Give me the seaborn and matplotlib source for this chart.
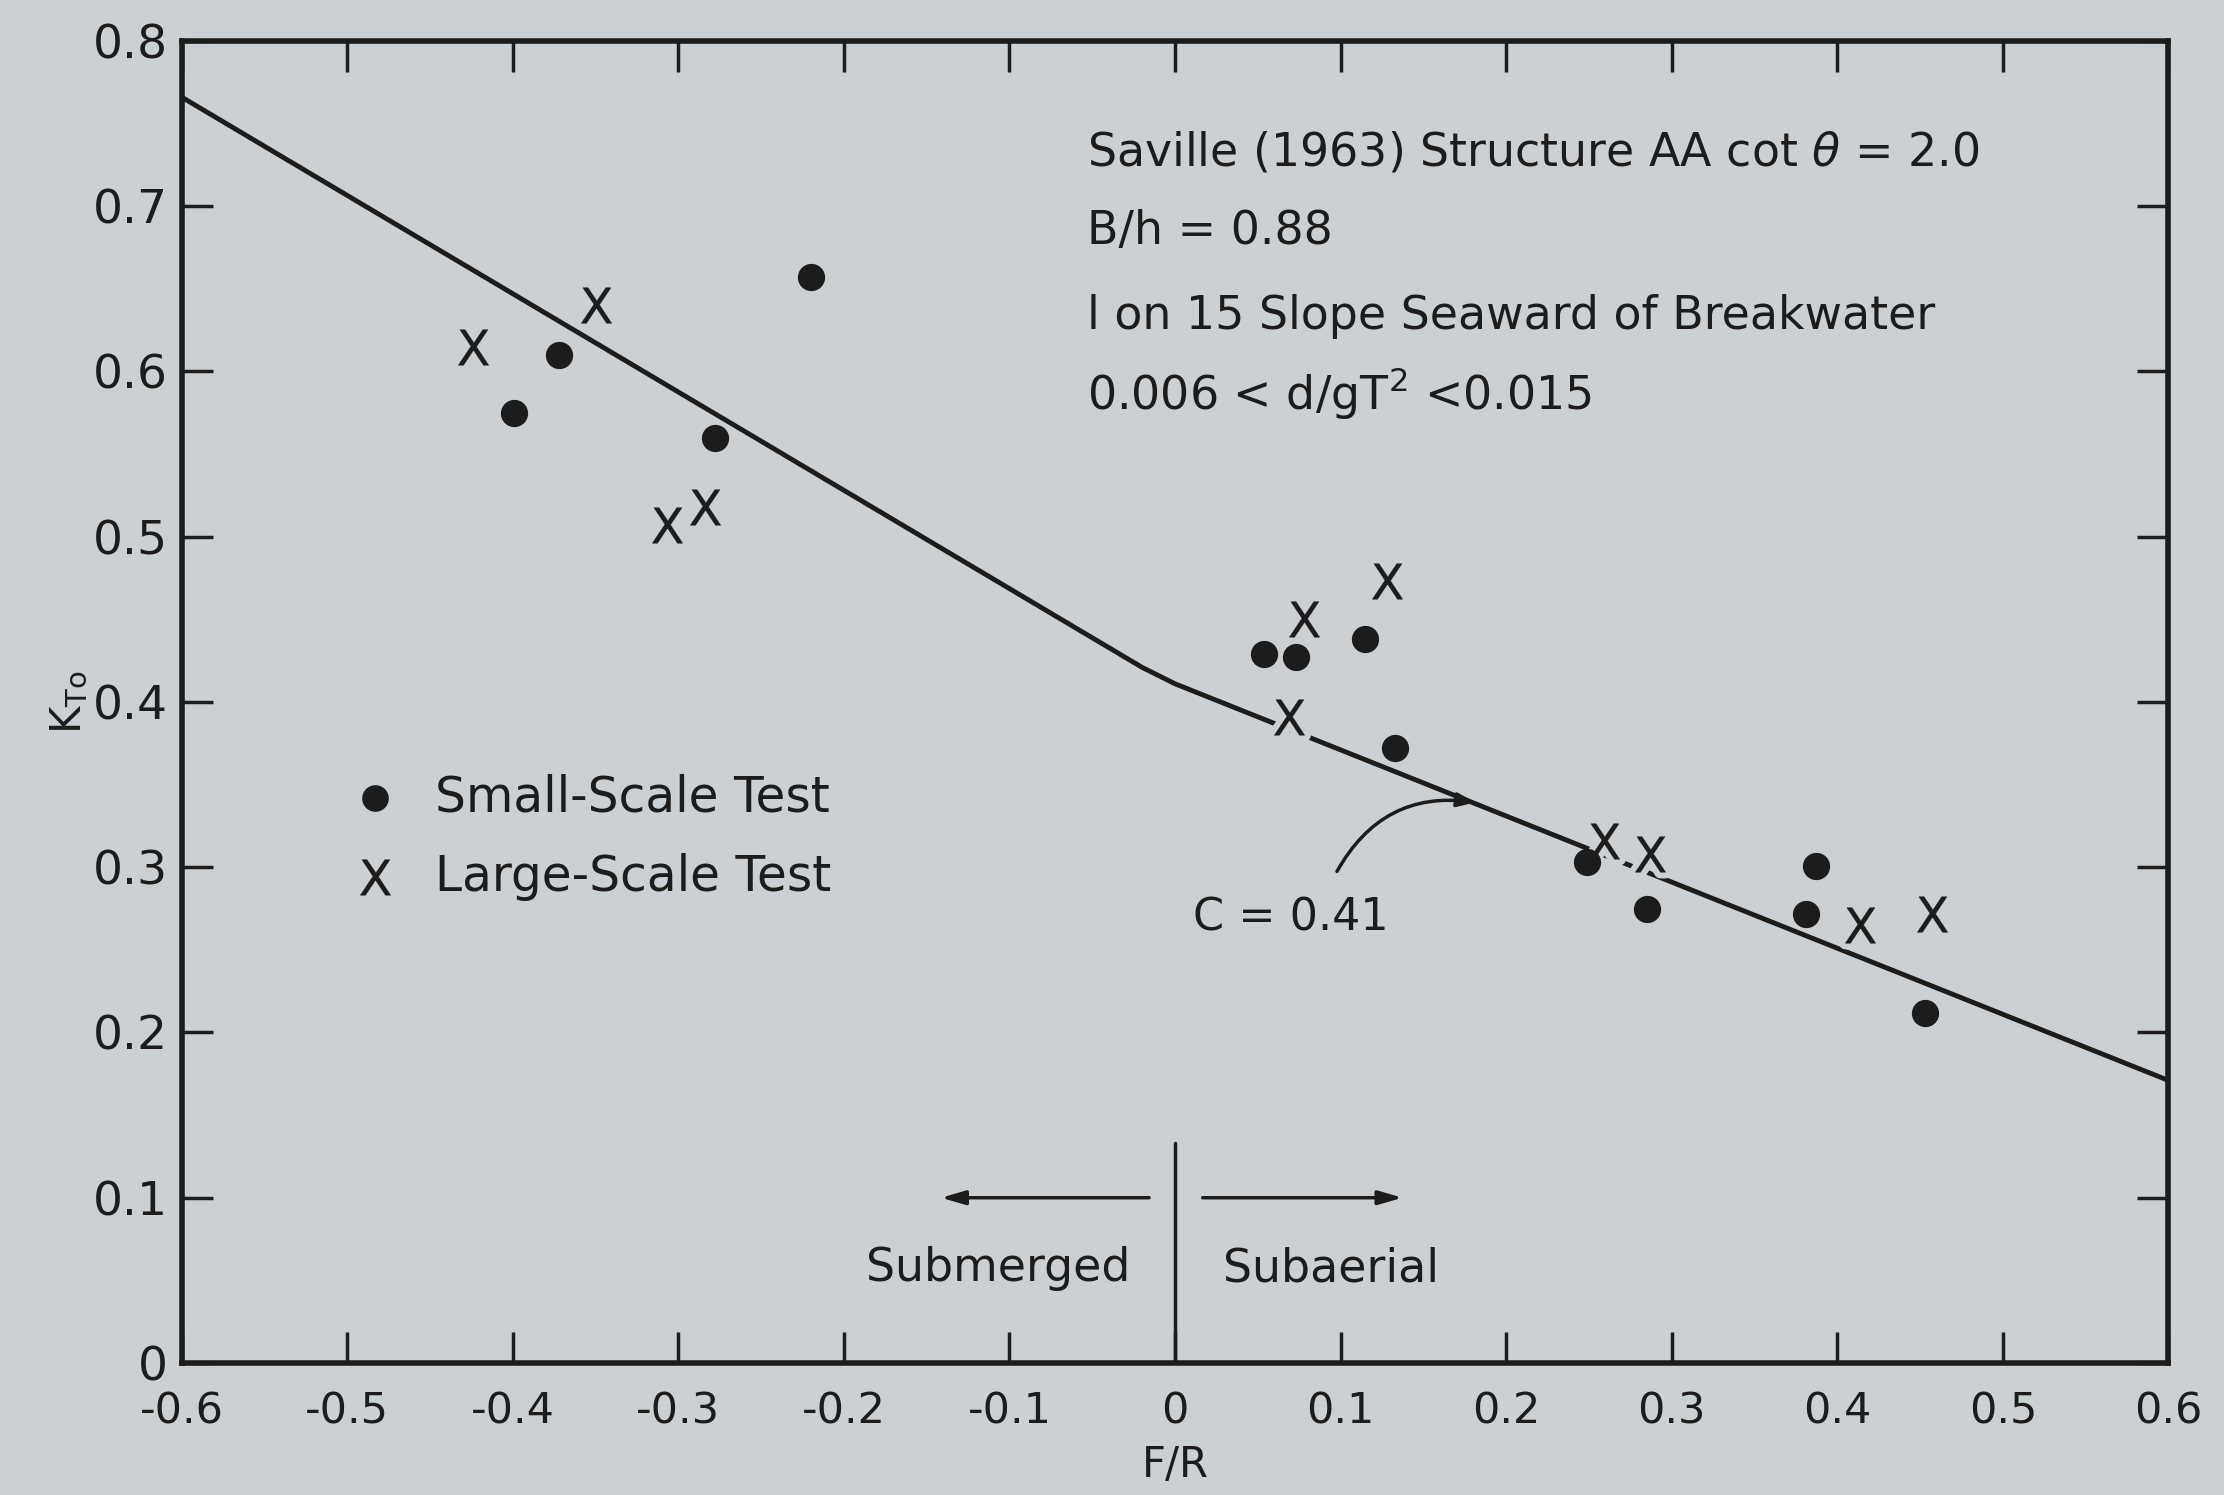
import matplotlib
matplotlib.use("Agg")
import matplotlib.pyplot as plt
import seaborn as sns
import pandas as pd
import numpy as np

# small-scale test points (F/R, K_To)
small_x = [-0.399, -0.372, -0.278, -0.220, 0.054, 0.073, 0.115, 0.133, 0.249, 0.285, 0.387, 0.381, 0.453]
small_y = [0.575, 0.610, 0.560, 0.657, 0.429, 0.427, 0.438, 0.372, 0.303, 0.275, 0.301, 0.272, 0.212]

# large-scale test points
large_x = [-0.424, -0.350, -0.307, -0.284, 0.078, 0.128, 0.069, 0.259, 0.287, 0.414, 0.457]
large_y = [0.615, 0.640, 0.507, 0.518, 0.450, 0.473, 0.391, 0.316, 0.308, 0.265, 0.272]

# fitted curve, C = 0.41
curve_x = [-0.6, -0.02, 0.0, 0.6]
curve_y = [0.766, 0.421, 0.411, 0.171]

x_ticks = [-0.6, -0.5, -0.4, -0.3, -0.2, -0.1, 0, 0.1, 0.2, 0.3, 0.4, 0.5, 0.6]
x_labels = ["-0.6", "-0.5", "-0.4", "-0.3", "-0.2", "-0.1", "0", "0.1", "0.2", "0.3", "0.4", "0.5", "0.6"]
y_ticks = [0, 0.1, 0.2, 0.3, 0.4, 0.5, 0.6, 0.7, 0.8]
y_labels = ["0", "0.1", "0.2", "0.3", "0.4", "0.5", "0.6", "0.7", "0.8"]

notes = ["Saville (1963) Structure AA cot $\\theta$ = 2.0",
         "B/h = 0.88",
         "l on 15 Slope Seaward of Breakwater",
         "0.006 < d/gT$^2$ <0.015"]
notes_y = [0.732, 0.685, 0.633, 0.587]

BG = "#cdd0d2"
INK = "#1c1c1c"
XMARK = "$\\mathsf{X}$"


def draw():
    sns.set_theme(style="ticks")
    plt.rcParams["font.family"] = ["DejaVu Sans"]
    plt.rcParams["mathtext.fontset"] = "dejavusans"

    fig = plt.figure(figsize=(22.24, 14.95), dpi=100, facecolor=BG)
    ax = fig.add_axes([0.0817, 0.0883, 0.8933, 0.8843], facecolor=BG)

    line_df = pd.DataFrame({"x": curve_x, "y": curve_y})
    sns.lineplot(data=line_df, x="x", y="y", ax=ax, color=INK, linewidth=3.5,
                 sort=False, estimator=None, zorder=3)

    large_df = pd.DataFrame({"x": large_x, "y": large_y})
    # background halo so the curve breaks around the X marks, as in the print
    sns.scatterplot(data=large_df, x="x", y="y", ax=ax, color=BG, s=650,
                    marker=XMARK, linewidth=9, edgecolor=BG, zorder=4)

    small_df = pd.DataFrame({"x": small_x, "y": small_y})
    sns.scatterplot(data=small_df, x="x", y="y", ax=ax, color=INK, s=330,
                    marker="o", edgecolor=INK, zorder=5)

    sns.scatterplot(data=large_df, x="x", y="y", ax=ax, color=INK, s=650,
                    marker=XMARK, linewidth=0.3, edgecolor=INK, zorder=6)

    # legend drawn by hand like the original
    ax.scatter([-0.483], [0.342], s=330, color=INK, marker="o")
    ax.scatter([-0.483], [0.294], s=650, color=INK, marker=XMARK, linewidth=0.3)
    ax.text(-0.447, 0.342, "Small-Scale Test", fontsize=35, color=INK, va="center")
    ax.text(-0.447, 0.294, "Large-Scale Test", fontsize=35, color=INK, va="center")

    for txt, yy in zip(notes, notes_y):
        ax.text(-0.053, yy, txt, fontsize=33, color=INK, va="center", ha="left")

    # C = 0.41 label with wavy pointer
    ax.text(0.07, 0.269, "C = 0.41", fontsize=32, color=INK, ha="center", va="center")
    ax.annotate("", xy=(0.183, 0.339), xytext=(0.097, 0.296),
                arrowprops=dict(arrowstyle="-|>,head_length=0.9,head_width=0.35",
                                color=INK, lw=2.5,
                                connectionstyle="arc3,rad=-0.35"))

    # submerged / subaerial divider
    ax.plot([0, 0], [0, 0.133], color=INK, linewidth=2.5)
    ax.annotate("", xy=(-0.143, 0.1), xytext=(-0.014, 0.1),
                arrowprops=dict(arrowstyle="-|>,head_length=1.2,head_width=0.35", color=INK, lw=2.5))
    ax.annotate("", xy=(0.139, 0.1), xytext=(0.015, 0.1),
                arrowprops=dict(arrowstyle="-|>,head_length=1.2,head_width=0.35", color=INK, lw=2.5))
    ax.text(-0.107, 0.057, "Submerged", fontsize=33, color=INK, ha="center", va="center")
    ax.text(0.094, 0.057, "Subaerial", fontsize=33, color=INK, ha="center", va="center")

    ax.set_xlim(-0.6, 0.6)
    ax.set_ylim(0, 0.8)
    ax.set_xticks(x_ticks)
    ax.set_xticklabels(x_labels)
    ax.set_yticks(y_ticks)
    ax.set_yticklabels(y_labels)
    ax.tick_params(direction="in", length=22, width=2.5, colors=INK,
                   top=True, right=True)
    ax.tick_params(axis="x", pad=20, labelsize=31)
    ax.tick_params(axis="y", pad=10, labelsize=34)
    for side in ["left", "right", "top", "bottom"]:
        ax.spines[side].set_linewidth(4)
        ax.spines[side].set_color(INK)

    ax.set_xlabel("F/R", fontsize=30, color=INK, labelpad=8)
    ax.set_ylabel("K$_{\\mathrm{To}}$", fontsize=30, color=INK, labelpad=2)

    fig.savefig("out.png", dpi=100, facecolor=BG)


if __name__ == "__main__":
    draw()
